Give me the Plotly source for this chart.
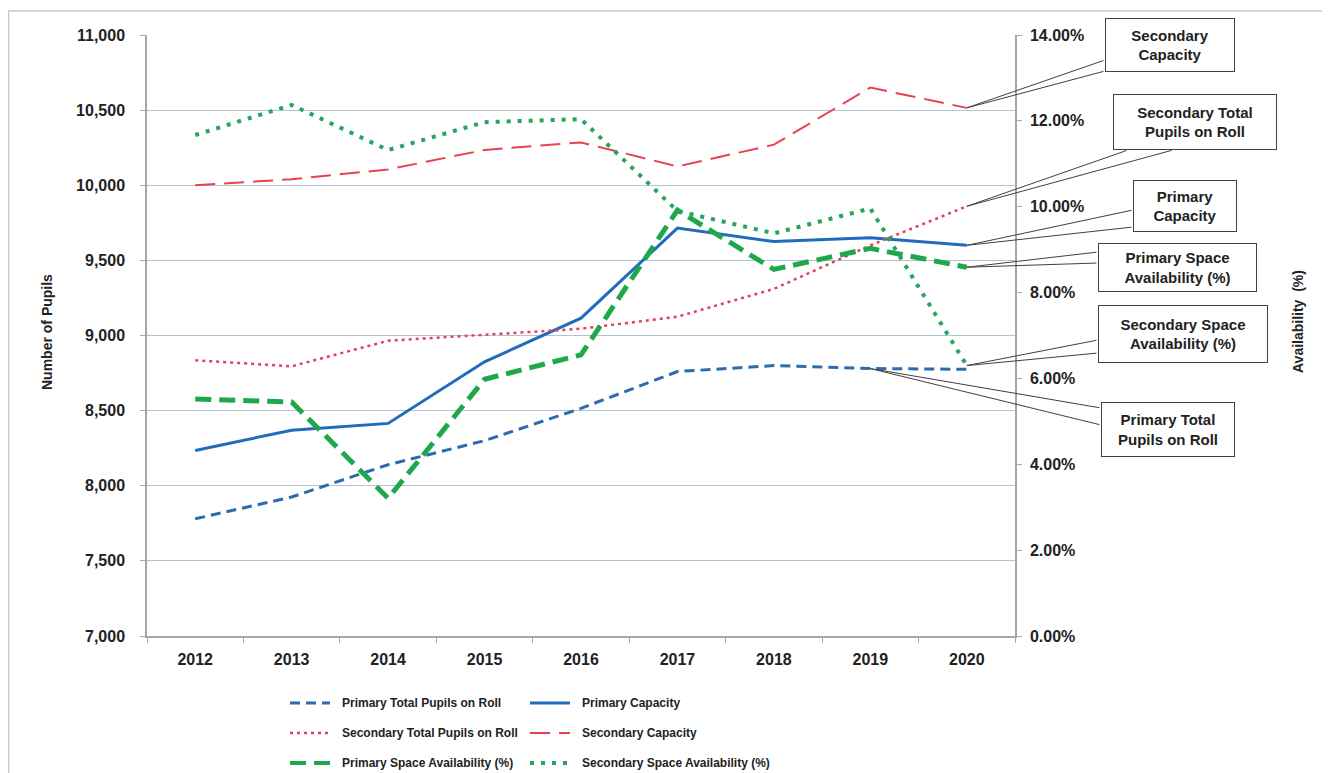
import plotly.graph_objects as go

# values
years = ["2012", "2013", "2014", "2015", "2016", "2017", "2018", "2019", "2020"]
primary_total = [7780, 7925, 8140, 8300, 8515, 8760, 8800, 8780, 8775]
primary_capacity = [8235, 8370, 8415, 8825, 9115, 9715, 9625, 9650, 9600]
secondary_total = [8835, 8795, 8965, 9005, 9045, 9125, 9310, 9600, 9860]
secondary_capacity = [10000, 10040, 10105, 10235, 10285, 10125, 10270, 10650, 10515]
primary_space = [5.52, 5.45, 3.21, 5.98, 6.55, 9.92, 8.54, 9.03, 8.59]      # %
secondary_space = [11.67, 12.37, 11.32, 11.97, 12.04, 9.90, 9.38, 9.96, 6.30]  # %

# page body adds an 8px margin, so the figure is shrunk and everything shifted by it
OFF = 8
W, H = 1330 - OFF, 773 - OFF
L, T = 147 - OFF, 35 - OFF
R, B = W - (1015 - OFF), H - (636 - OFF)
PW, PH = W - L - R, H - T - B

FONT = "Liberation Sans, Arial, sans-serif"


# screen pixel -> paper coords
def px(X):
    return (X - OFF - L) / PW


def py(Y):
    return (H - B - (Y - OFF)) / PH


# screen pixel -> axis coords, only used to place the callout wedges
def cat_x(X):
    return (X - OFF - L) / (PW / len(years)) - 0.5


def left_y(Y):
    return 11000 - (Y - OFF - T) / PH * 4000


def right_y(Y):
    return (H - B - (Y - OFF)) / PH * 14


series = [
    ("Primary Total Pupils on Roll", primary_total, "y",
     dict(color="#2e6aae", width=3, dash="10px,6px")),
    ("Primary Capacity", primary_capacity, "y",
     dict(color="#1f6cbd", width=3)),
    ("Secondary Total Pupils on Roll", secondary_total, "y",
     dict(color="#e0425e", width=2.5, dash="3px,4px")),
    ("Secondary Capacity", secondary_capacity, "y",
     dict(color="#e8424f", width=2, dash="20px,9px")),
    ("Primary Space Availability (%)", primary_space, "y2",
     dict(color="#1fa84a", width=5, dash="16px,8px")),
    ("Secondary Space Availability (%)", secondary_space, "y2",
     dict(color="#26a55e", width=4, dash="4px,7px")),
]

fig = go.Figure()
for name, vals, yax, line in series:
    fig.add_trace(go.Scatter(x=years, y=vals, name=name, mode="lines", line=line,
                             yaxis=yax, showlegend=False))

# legend drawn by hand: two columns, three rows
leg_cols = [290, 530]
leg_rows = [703, 733, 763]
for k, (name, vals, yax, line) in enumerate(series):
    X0 = leg_cols[k % 2]
    Y0 = leg_rows[k // 2]
    fig.add_shape(type="line", xref="paper", yref="paper",
                  x0=px(X0), x1=px(X0 + 40), y0=py(Y0), y1=py(Y0),
                  line=dict(color=line["color"], width=min(line["width"], 4),
                            dash=line.get("dash", "solid")))
    fig.add_annotation(x=px(X0 + 50), y=py(Y0), xref="paper", yref="paper",
                       xanchor="left", yanchor="middle", showarrow=False, text=name,
                       font=dict(family=FONT, size=12, color="#222222", weight="bold"))

# callouts: text, values, axis, year index, box (x0, y0, x1, y1) px, wedge tails px
callouts = [
    ("Secondary<br>Capacity", secondary_capacity, "y", 8, (1105, 18, 1235, 72),
     [(1105, 60), (1105, 71)]),
    ("Secondary Total<br>Pupils on Roll", secondary_total, "y", 8, (1113, 94, 1277, 150),
     [(1128, 150), (1173, 150)]),
    ("Primary<br>Capacity", primary_capacity, "y", 8, (1133, 180, 1237, 232),
     [(1133, 210), (1133, 227)]),
    ("Primary Space<br>Availability (%)", primary_space, "y2", 8, (1098, 243, 1257, 292),
     [(1098, 252), (1098, 263)]),
    ("Secondary Space<br>Availability (%)", secondary_space, "y2", 8, (1098, 305, 1268, 363),
     [(1098, 340), (1098, 353)]),
    ("Primary Total<br>Pupils on Roll", primary_total, "y", 7, (1101, 402, 1235, 457),
     [(1101, 408), (1101, 425)]),
]

for text, vals, yref, i, box, tails in callouts:
    conv = left_y if yref == "y" else right_y
    for tx, ty in tails:
        fig.add_annotation(x=i, y=vals[i], xref="x", yref=yref,
                           ax=cat_x(tx), ay=conv(ty), axref="x", ayref=yref,
                           text="", showarrow=True, arrowhead=0, arrowwidth=1,
                           arrowcolor="#404040", standoff=0, startstandoff=0)
    x0, y0, x1, y1 = box
    fig.add_annotation(x=px((x0 + x1) / 2), y=py((y0 + y1) / 2), xref="paper", yref="paper",
                       xanchor="center", yanchor="middle", showarrow=False,
                       text=text, align="center",
                       width=x1 - x0 - 10, height=y1 - y0 - 10, borderpad=4,
                       bordercolor="#404040", borderwidth=1, bgcolor="white",
                       font=dict(family=FONT, size=15, color="#222222", weight="bold"))

# axis titles
fig.add_annotation(x=px(47), y=py(332), xref="paper", yref="paper", text="Number of Pupils",
                   textangle=-90, showarrow=False, xanchor="center", yanchor="middle",
                   font=dict(family=FONT, size=14, color="#222222", weight="bold"))
fig.add_annotation(x=px(1298), y=py(322), xref="paper", yref="paper", text="Availability  (%)",
                   textangle=-90, showarrow=False, xanchor="center", yanchor="middle",
                   font=dict(family=FONT, size=14, color="#222222", weight="bold"))

# light frame around the chart
fig.add_shape(type="rect", xref="paper", yref="paper",
              x0=px(8.5), x1=px(1327), y0=py(790), y1=py(11),
              line=dict(color="#c8c8c8", width=1.5), layer="below")

tick_font = dict(family=FONT, size=16, color="#222222", weight="bold")

fig.update_layout(
    width=W, height=H,
    margin=dict(l=L, r=R, t=T, b=B, autoexpand=False),
    paper_bgcolor="white", plot_bgcolor="white",
    showlegend=False,
    xaxis=dict(type="category", categoryarray=years, range=[-0.5, 8.5],
               showline=True, linecolor="#a6a6a6", linewidth=1.5,
               ticks="outside", tickson="boundaries", ticklen=5, tickcolor="#a6a6a6",
               ticklabelstandoff=8, showgrid=False, tickfont=tick_font),
    yaxis=dict(range=[7000, 11000], dtick=500, tickformat=",",
               showline=True, linecolor="#a6a6a6", linewidth=1.5,
               ticks="outside", ticklen=5, tickcolor="#a6a6a6", ticklabelstandoff=12,
               showgrid=True, gridcolor="#b3c3d6", gridwidth=1,
               zeroline=False, tickfont=tick_font),
    yaxis2=dict(range=[0, 14], dtick=2, tickformat=".2f", ticksuffix="%",
                overlaying="y", side="right",
                showline=True, linecolor="#a6a6a6", linewidth=1.5,
                ticks="outside", ticklen=5, tickcolor="#a6a6a6", ticklabelstandoff=5,
                showgrid=False, zeroline=False, tickfont=tick_font),
)

fig.write_html("out.html")
